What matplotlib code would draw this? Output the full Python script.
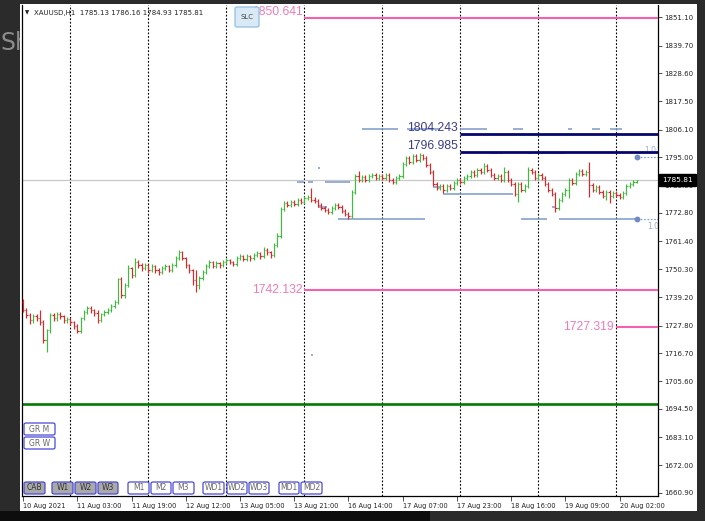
import matplotlib
matplotlib.use("Agg")
import matplotlib.pyplot as plt
from matplotlib.patches import Rectangle, FancyBboxPatch
from matplotlib.collections import LineCollection
from matplotlib import transforms

W, H = 705, 521

# XAUUSD H1 bars, 10 Aug 2021 10:00 .. 20 Aug 2021 07:00
first_open = 1737.1
closes = [
    1733.9, 1731.9, 1729.9, 1731.5, 1730.7, 1729.1, 1721.9, 1725.9, 1731.9, 1730.7,
    1732.3, 1731.5, 1729.9, 1730.3, 1729.1, 1727.5, 1725.5, 1730.7, 1733.1, 1734.7,
    1733.9, 1732.7, 1729.9, 1732.3, 1733.1, 1733.9, 1735.5, 1737.1, 1746.3, 1739.9,
    1743.9, 1750.7, 1747.9, 1753.1, 1751.9, 1750.7, 1751.9, 1749.9, 1751.5, 1749.9,
    1749.1, 1750.7, 1751.5, 1749.9, 1751.9, 1754.7, 1757.1, 1754.7, 1751.9, 1749.9,
    1745.9, 1743.9, 1746.7, 1749.1, 1751.5, 1753.1, 1751.5, 1752.7, 1751.9, 1753.1,
    1753.9, 1753.1, 1752.3, 1754.7, 1755.5, 1754.3, 1755.5, 1754.7, 1755.9, 1756.7,
    1755.5, 1757.9, 1757.1, 1755.9, 1759.9, 1763.5, 1774.3, 1776.7, 1775.9, 1777.1,
    1776.3, 1777.9, 1777.1, 1778.7, 1779.1, 1777.9, 1777.5, 1775.9, 1774.7, 1773.9,
    1773.1, 1774.7, 1775.9, 1775.1, 1773.5, 1772.3, 1771.5, 1781.1, 1787.5, 1785.9,
    1787.1, 1785.9, 1787.5, 1787.9, 1786.7, 1787.5, 1786.7, 1787.9, 1785.9, 1785.1,
    1786.7, 1787.5, 1792.3, 1794.7, 1793.1, 1795.5, 1793.9, 1795.9, 1794.7, 1791.9,
    1789.1, 1784.3, 1782.7, 1783.5, 1781.9, 1783.5, 1782.7, 1784.7, 1785.9, 1785.1,
    1786.7, 1787.5, 1789.1, 1787.9, 1789.9, 1789.1, 1791.5, 1789.9, 1787.9, 1786.7,
    1787.5, 1785.9, 1789.1, 1785.9, 1784.3, 1780.3, 1784.3, 1781.9, 1783.5, 1789.9,
    1789.1, 1786.7, 1787.9, 1786.7, 1784.3, 1781.9, 1780.3, 1774.7, 1777.9, 1780.3,
    1781.9, 1785.9, 1784.7, 1788.3, 1789.5, 1788.3, 1789.1, 1783.9, 1781.9, 1783.1,
    1781.1, 1779.5, 1781.1, 1779.5, 1780.7, 1779.9, 1779.1, 1780.7, 1783.5, 1784.3,
    1785.1, 1785.81,
]
highs = [
    1738.3, 1735.0, 1732.8, 1732.6, 1732.4, 1733.9, 1730.0, 1726.6, 1733.0, 1732.8,
    1733.2, 1733.1, 1732.2, 1731.2, 1731.0, 1729.8, 1728.3, 1731.4, 1734.0, 1735.6,
    1735.5, 1734.6, 1733.9, 1733.0, 1734.1, 1734.8, 1736.4, 1738.0, 1747.0, 1747.1,
    1744.8, 1751.9, 1751.3, 1754.7, 1753.9, 1752.8, 1752.7, 1752.6, 1752.3, 1752.1,
    1750.8, 1751.5, 1752.4, 1752.2, 1752.7, 1755.5, 1757.9, 1757.8, 1755.4, 1752.6,
    1750.6, 1749.9, 1747.5, 1750.0, 1752.3, 1754.0, 1753.8, 1753.5, 1753.4, 1754.0,
    1754.8, 1754.6, 1753.8, 1755.6, 1756.4, 1756.2, 1756.3, 1756.2, 1756.8, 1757.6,
    1757.3, 1759.1, 1758.6, 1757.8, 1760.8, 1764.6, 1775.0, 1777.6, 1777.4, 1778.0,
    1777.8, 1778.7, 1778.6, 1779.6, 1780.0, 1782.7, 1779.0, 1778.2, 1776.6, 1775.5,
    1774.6, 1775.5, 1776.7, 1776.6, 1775.8, 1774.2, 1773.0, 1781.8, 1788.3, 1789.5,
    1788.0, 1787.9, 1788.3, 1788.8, 1788.6, 1788.3, 1788.2, 1788.7, 1788.6, 1786.6,
    1787.5, 1788.4, 1793.1, 1795.6, 1795.4, 1796.3, 1796.2, 1796.7, 1796.5, 1795.4,
    1792.6, 1789.8, 1785.0, 1784.4, 1784.2, 1784.3, 1784.2, 1785.5, 1786.8, 1786.6,
    1787.6, 1788.4, 1790.0, 1789.8, 1790.8, 1790.6, 1792.7, 1792.2, 1790.6, 1788.6,
    1788.3, 1788.2, 1791.1, 1789.8, 1786.6, 1785.0, 1785.1, 1785.0, 1784.4, 1791.1,
    1790.8, 1789.8, 1788.7, 1788.6, 1787.4, 1785.0, 1782.6, 1781.0, 1778.8, 1781.2,
    1782.8, 1786.6, 1786.6, 1789.2, 1790.4, 1790.2, 1790.0, 1793.1, 1784.6, 1784.0,
    1783.8, 1781.8, 1782.0, 1781.8, 1781.6, 1781.4, 1780.6, 1781.6, 1784.4, 1785.2,
    1786.0, 1786.16,
]
lows = [
    1733.1, 1730.8, 1728.6, 1729.0, 1729.8, 1728.2, 1720.7, 1717.1, 1724.9, 1729.6,
    1729.8, 1730.4, 1728.9, 1729.0, 1728.2, 1726.6, 1724.9, 1724.7, 1729.9, 1732.4,
    1733.0, 1731.8, 1729.0, 1729.2, 1731.6, 1732.3, 1733.2, 1734.8, 1736.3, 1738.7,
    1739.0, 1743.2, 1747.0, 1747.2, 1751.0, 1749.8, 1750.0, 1749.0, 1749.2, 1749.0,
    1748.2, 1748.4, 1749.9, 1749.1, 1749.2, 1751.2, 1754.0, 1753.9, 1751.0, 1749.0,
    1743.9, 1741.1, 1742.6, 1746.0, 1748.4, 1750.8, 1750.7, 1750.8, 1751.0, 1751.2,
    1752.4, 1752.3, 1751.5, 1751.6, 1754.0, 1753.5, 1753.6, 1753.8, 1754.0, 1755.1,
    1754.6, 1754.8, 1756.2, 1755.0, 1755.2, 1759.2, 1762.8, 1773.6, 1775.0, 1775.2,
    1775.5, 1775.6, 1776.3, 1776.4, 1778.0, 1777.0, 1776.6, 1775.0, 1773.8, 1773.0,
    1772.2, 1772.4, 1774.0, 1774.3, 1772.7, 1771.4, 1770.3, 1770.8, 1780.4, 1785.0,
    1785.2, 1785.0, 1785.2, 1786.8, 1785.9, 1785.9, 1785.8, 1786.0, 1785.0, 1784.2,
    1784.4, 1786.0, 1786.8, 1791.6, 1792.2, 1792.4, 1793.0, 1793.2, 1793.8, 1791.0,
    1788.2, 1783.4, 1781.8, 1781.9, 1780.7, 1781.2, 1781.8, 1782.0, 1784.0, 1784.3,
    1784.4, 1786.0, 1786.8, 1787.0, 1787.2, 1788.2, 1788.4, 1789.0, 1787.0, 1785.8,
    1786.0, 1785.0, 1785.2, 1785.0, 1783.4, 1779.5, 1777.1, 1781.0, 1781.2, 1782.8,
    1788.2, 1785.8, 1786.0, 1785.8, 1783.4, 1781.0, 1779.4, 1773.1, 1774.0, 1777.2,
    1779.6, 1778.7, 1783.8, 1784.0, 1787.6, 1787.4, 1787.6, 1779.0, 1781.0, 1781.2,
    1780.2, 1778.6, 1777.9, 1776.7, 1778.8, 1779.0, 1778.2, 1778.4, 1780.0, 1782.8,
    1783.6, 1784.93,
]
opens = [first_open] + closes[:-1]
opens[-1] = 1785.13

bid = 1785.81

xtick_bars = [0, 16, 32, 48, 64, 80, 96, 112, 128, 144, 160, 176]
xtick_labels = ['10 Aug 2021', '11 Aug 03:00', '11 Aug 19:00', '12 Aug 12:00',
                '13 Aug 05:00', '13 Aug 21:00', '16 Aug 14:00', '17 Aug 07:00',
                '17 Aug 23:00', '18 Aug 16:00', '19 Aug 09:00', '20 Aug 02:00']
ytick_values = [1851.10, 1839.70, 1828.60, 1817.50, 1806.10, 1795.00, 1783.90,
                1772.80, 1761.40, 1750.30, 1739.20, 1727.80, 1716.70, 1705.60,
                1694.50, 1683.10, 1672.00, 1660.90]

day_starts = [14, 37, 60, 83, 106, 129, 152, 175]

# (price, first bar) of drawn levels
pink_levels = [(1850.641, 83), (1742.132, 83), (1727.319, 175)]
navy_levels = [(1804.243, 129), (1796.985, 129)]
green_level = 1696.4

# light blue zone segments: (price, from bar, to bar)
zone_segments = [
    (1806.4, 100.0, 110.6), (1806.4, 113.3, 123.0), (1806.4, 129.0, 136.9),
    (1806.4, 144.5, 147.5), (1806.4, 160.8, 162.0), (1806.4, 167.8, 170.2),
    (1806.4, 173.2, 176.7),
    (1796.8, 137.8, 141.6), (1796.8, 149.0, 150.0), (1796.8, 151.0, 160.0),
    (1785.2, 80.8, 83.0), (1785.2, 84.0, 85.5), (1785.2, 89.0, 96.5),
    (1775.2, 87.0, 89.7), (1783.2, 121.0, 123.0), (1780.4, 124.0, 144.5),
    (1770.4, 93.0, 118.6), (1770.4, 147.0, 154.6), (1770.4, 158.0, 181.1),
    (1790.8, 87.0, 87.6), (1775.2, 155.9, 156.8), (1716.0, 85.0, 85.6),
]
fibo_points = [(181.1, 1795.2), (181.1, 1770.4)]


def fbox(x0, y0, x1, y1):
    return (x0 / W, 1 - y1 / H, (x1 - x0) / W, (y1 - y0) / H)


fig = plt.figure(figsize=(W / 100, H / 100), dpi=100, facecolor='#2b2b2b')

# window behind the chart (partially visible)
fig.text(0, 1 - 50 / H, 'Sh', fontsize=17, color='#8c8c8c', zorder=-3)
fig.add_artist(Rectangle((0, 0), 430 / W, 10 / H, transform=fig.transFigure,
                         facecolor='#0d0d0d', edgecolor='none', zorder=-2))
x0, y0, w, h = fbox(20, 4, 697, 511)
fig.add_artist(Rectangle((x0, y0), w, h, transform=fig.transFigure,
                         facecolor='white', edgecolor='none', zorder=-1))

ax = fig.add_axes(fbox(22, 5, 658, 496))
ax.set_xlim(-0.3, 187.3)
ax.set_ylim(1659.7, 1855.9)
ax.set_facecolor('white')
ax.spines['top'].set_visible(False)
for s in ['left', 'right', 'bottom']:
    ax.spines[s].set_color('black')
    ax.spines[s].set_linewidth(0.9)

# day separators
for d in day_starts:
    ax.axvline(d, color='black', lw=0.8, ls=(0, (1.6, 1.6)), zorder=1)

# bid line
ax.axhline(bid, color='#c8c8c8', lw=0.9, zorder=1)

# OHLC bars
up_segs, dn_segs = [], []
for i, (o, h_, l_, c) in enumerate(zip(opens, highs, lows, closes)):
    segs = [[(i, l_), (i, h_)], [(i - 0.38, o), (i, o)], [(i, c), (i + 0.38, c)]]
    if c >= o:
        up_segs += segs
    else:
        dn_segs += segs
ax.add_collection(LineCollection(up_segs, colors='#3cbd3c', linewidths=0.85, zorder=3))
ax.add_collection(LineCollection(dn_segs, colors='#e0262a', linewidths=0.85, zorder=3))

# light blue zones
for p, b0, b1 in zone_segments:
    ax.plot([b0, b1], [p, p], color='#7d98c9', lw=1.1, zorder=2, solid_capstyle='butt')
for b, p in fibo_points:
    ax.plot([b, 187.3], [p, p], color='#7d98c9', lw=0.8, ls=(0, (1.5, 1.5)), zorder=2)
    ax.plot([b], [p], 'o', color='#6f8cc4', ms=3.2, zorder=4)
ax.text(183.3, 1797.6, '1.0', fontsize=5.5, color='#9aaed2', va='center', ha='left', clip_on=True)
ax.text(184.0, 1767.4, '1.0', fontsize=5.5, color='#9aaed2', va='center', ha='left', clip_on=True)

# levels
ax.axhline(green_level, color='#007a00', lw=1.9, zorder=2)
for p, b in pink_levels:
    ax.plot([b, 187.3], [p, p], color='#f45fae', lw=1.5, zorder=4, solid_capstyle='butt')
    va = 'bottom' if p > 1845 else 'center'
    ax.text(b - 0.6, p, f'{p:.3f}', ha='right', va=va, color='#f07bb8',
            fontsize=8.7, family='Liberation Sans', zorder=4)
for p, b in navy_levels:
    ax.plot([b, 187.3], [p, p], color='#05056e', lw=2.0, zorder=4, solid_capstyle='butt')
    ax.text(b - 0.6, p, f'{p:.3f}', ha='right', va='bottom', color='#3c3c8e',
            fontsize=8.7, family='Liberation Sans', zorder=4)

# axes ticks
ax.yaxis.tick_right()
ax.set_yticks(ytick_values)
ax.set_yticklabels([f'{v:.2f}' for v in ytick_values])
ax.tick_params(axis='y', direction='out', length=3, width=0.6, pad=1.5,
               labelsize=5, labelcolor='#222222', color='#333333')
ax.set_xticks(xtick_bars)
ax.set_xticklabels(xtick_labels, ha='left')
ax.tick_params(axis='x', direction='out', length=3.5, width=0.6, pad=1.5,
               labelsize=4.8, labelcolor='#222222', color='#333333')

# current price tag
tr = transforms.blended_transform_factory(ax.transAxes, ax.transData)
ax.text(1.006, bid, f'{bid:.2f}', transform=tr, ha='left', va='center', fontsize=5.3,
        color='white', zorder=6, clip_on=False,
        bbox=dict(boxstyle='square,pad=0.4', fc='black', ec='black'))

# header
fig.text(25 / W, 1 - 13 / H, '\u25bc', fontsize=4, color='#222222', va='center')
fig.text(34 / W, 1 - 13 / H, 'XAUUSD,H1  1785.13 1786.16 1784.93 1785.81',
         fontsize=5, color='#222222', va='center')


def button(x0_, y0_, x1_, y1_, label, fc, ec, tc, fs=5.5):
    bx, by, bw, bh = fbox(x0_, y0_, x1_, y1_)
    fig.add_artist(FancyBboxPatch((bx, by), bw, bh, transform=fig.transFigure,
                                  boxstyle='round,pad=0,rounding_size=0.003',
                                  facecolor=fc, edgecolor=ec, lw=0.9, zorder=5))
    fig.text(bx + bw / 2, by + bh / 2, label, ha='center', va='center',
             fontsize=fs, color=tc, zorder=6)


button(235, 7, 259, 27, 'SLC', '#d9eaf6', '#8fc0e2', '#444444', 5)
button(24, 423, 55, 435, 'GR M', 'white', '#4a4ad8', '#666666')
button(24, 437, 55, 449, 'GR W', 'white', '#4a4ad8', '#666666')
bottom_buttons = [('CAB', 24, 45, '#a9a9a9'), ('W1', 52, 73, '#a9a9a9'),
                  ('W2', 75, 96, '#a9a9a9'), ('W3', 98, 118, '#a9a9a9'),
                  ('M1', 128, 149, 'white'), ('M2', 151, 171, 'white'),
                  ('M3', 173, 194, 'white'), ('WD1', 203, 224, 'white'),
                  ('WD2', 227, 247, 'white'), ('WD3', 249, 269, 'white'),
                  ('MD1', 279, 299, 'white'), ('MD2', 301, 322, 'white')]
for lab, bx0, bx1, fc in bottom_buttons:
    tc = '#333333' if fc != 'white' else '#666666'
    button(bx0, 482, bx1, 494, lab, fc, '#4a4ad8', tc)

fig.savefig('out.png', dpi=100, facecolor=fig.get_facecolor())
